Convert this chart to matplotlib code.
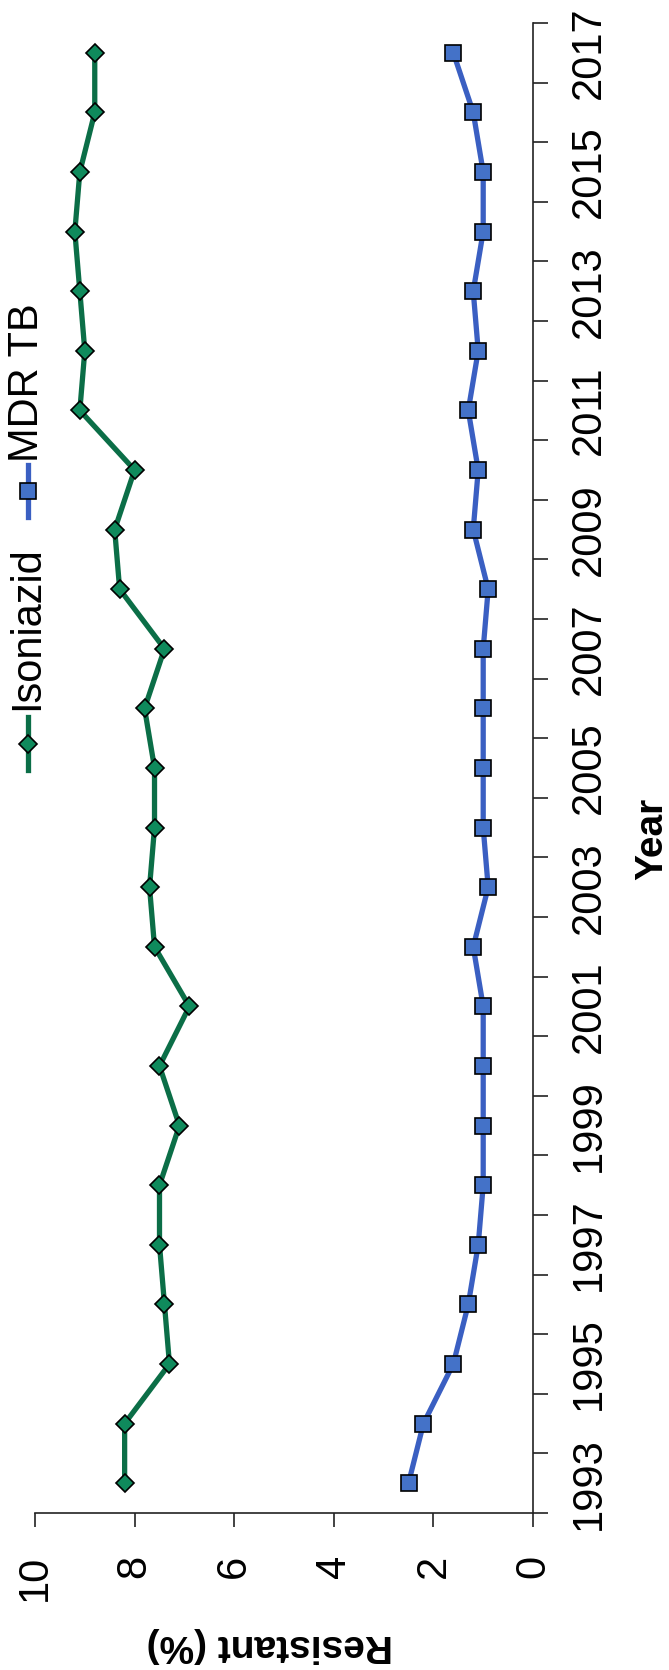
import matplotlib
matplotlib.use("Agg")
import matplotlib.pyplot as plt
from matplotlib.lines import Line2D
from matplotlib.ticker import NullFormatter

plt.rcParams['font.family'] = ['Liberation Sans', 'DejaVu Sans']

years = list(range(1993, 2018))
isoniazid = [8.2, 8.2, 7.3, 7.4, 7.5, 7.5, 7.1, 7.5, 6.9, 7.6, 7.7, 7.6, 7.6,
             7.8, 7.4, 8.3, 8.4, 8.0, 9.1, 9.0, 9.1, 9.2, 9.1, 8.8, 8.8]
mdr_tb = [2.5, 2.2, 1.6, 1.3, 1.1, 1.0, 1.0, 1.0, 1.0, 1.2, 0.9, 1.0, 1.0,
          1.0, 1.0, 0.9, 1.2, 1.1, 1.3, 1.1, 1.2, 1.0, 1.0, 1.2, 1.6]
series_names = ['Isoniazid', 'MDR TB']
value_ticks = [0, 2, 4, 6, 8, 10]
year_labels = [str(y) for y in years[::2]]

green_line = '#0b6e47'
green_fill = '#0f8a5c'
blue_line = '#3a5fc2'
blue_fill = '#4472c8'

W, H = 669, 1670
fig = plt.figure(figsize=(W / 100, H / 100), dpi=100)
# axes drawn already rotated: value axis runs right->left, years bottom->top
ax = fig.add_axes([35 / W, 157 / H, 498 / W, 1490 / H])

ax.plot(isoniazid, years, color=green_line, lw=3.8, marker='D', ms=9,
        mfc=green_fill, mec='black', mew=1.2, zorder=3)
ax.plot(mdr_tb, years, color=blue_line, lw=3.8, marker='s', ms=11.5,
        mfc=blue_fill, mec='black', mew=1.2, zorder=3)

ax.set_xlim(10, 0)
ax.set_ylim(years[0] - 0.5, years[-1] + 0.5)

for side in ['top', 'left']:
    ax.spines[side].set_visible(False)
for side in ['bottom', 'right']:
    ax.spines[side].set_linewidth(1.2)
    ax.spines[side].set_color('#222222')

ax.set_xticks(value_ticks)
ax.set_xticklabels([str(v) for v in value_ticks])
ax.tick_params(axis='x', direction='out', length=10, width=1.2, pad=20,
               labelsize=30, labelrotation=90, color='#222222')

ax.yaxis.tick_right()
ax.set_yticks([y - 0.5 for y in years] + [years[-1] + 0.5])
ax.yaxis.set_major_formatter(NullFormatter())
ax.set_yticks(years[::2], minor=True)
ax.set_yticklabels(year_labels, minor=True)
ax.tick_params(axis='y', which='major', direction='out', length=11, width=1.2,
               color='#222222')
ax.tick_params(axis='y', which='minor', length=0, pad=26, labelsize=30,
               labelrotation=90)
for lab in ax.get_yticklabels(minor=True):
    lab.set_va('center')
    lab.set_ha('left')

fig.text(270 / W, 1 - 1645 / H, 'Resistant (%)', rotation=180, ha='center',
         va='center', fontsize=28, fontweight='bold')
fig.text(652 / W, 1 - 839 / H, 'Year', rotation=90, ha='center',
         va='center', fontsize=28, fontweight='bold')

# legend, rotated like the rest
legend_specs = [
    (series_names[0], green_line, green_fill, 'D', 9, 717, 770, 710),
    (series_names[1], blue_line, blue_fill, 's', 11.5, 465, 517, 462),
]
for name, lc, fc, mk, ms, y0, y1, ytxt in legend_specs:
    fig.add_artist(Line2D([28 / W, 28 / W], [1 - y0 / H, 1 - y1 / H],
                          transform=fig.transFigure, color=lc, lw=3.8))
    fig.add_artist(Line2D([28 / W], [1 - (y0 + y1) / 2 / H],
                          transform=fig.transFigure, marker=mk, ms=ms,
                          mfc=fc, mec='black', mew=1.2, lw=0))
    fig.text(27 / W, 1 - ytxt / H, name, rotation=90, ha='center',
             va='bottom', fontsize=30)

fig.savefig('out.png', dpi=100)
